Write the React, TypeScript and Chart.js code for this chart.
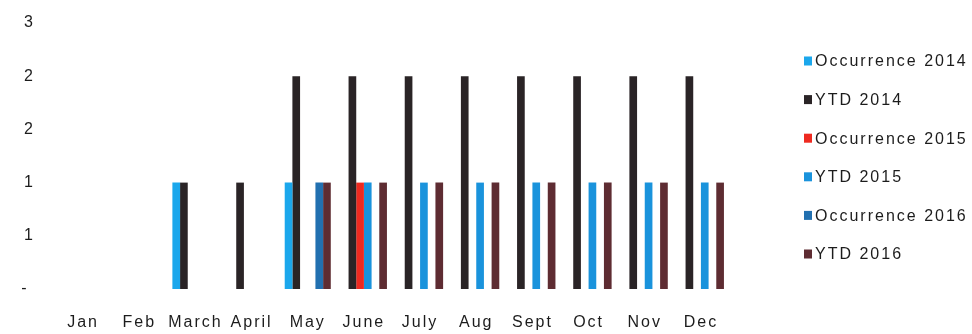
import { useEffect, useRef } from "react";
import { Chart, registerables } from "chart.js";

Chart.register(...registerables);

const months = ["Jan", "Feb", "March", "April", "May", "June", "July", "Aug", "Sept", "Oct", "Nov", "Dec"];

const occurrence2014 = [0, 0, 1, 0, 1, 0, 0, 0, 0, 0, 0, 0];
const ytd2014 = [0, 0, 1, 1, 2, 2, 2, 2, 2, 2, 2, 2];
const occurrence2015 = [0, 0, 0, 0, 0, 1, 0, 0, 0, 0, 0, 0];
const ytd2015 = [0, 0, 0, 0, 0, 1, 1, 1, 1, 1, 1, 1];
const occurrence2016 = [0, 0, 0, 0, 1, 0, 0, 0, 0, 0, 0, 0];
const ytd2016 = [0, 0, 0, 0, 1, 1, 1, 1, 1, 1, 1, 1];

const seriesNames = ["Occurrence 2014", "YTD 2014", "Occurrence 2015", "YTD 2015", "Occurrence 2016", "YTD 2016"];
const seriesColors = ["#1ba7ec", "#2a2426", "#ee2a20", "#1a93dc", "#2270b0", "#5e2c32"];
const seriesValues = [occurrence2014, ytd2014, occurrence2015, ytd2015, occurrence2016, ytd2016];

const FONT_FAMILY = '"Liberation Sans", Arial, sans-serif';
const TEXT_COLOR = "#1c1c1c";
const SPACING = "2px";

// Wide letter spacing for every text drawn on the canvas
const spacingPlugin = {
  id: "wideText",
  beforeLayout(chart: any) {
    chart.ctx.letterSpacing = SPACING;
  },
  beforeDraw(chart: any) {
    chart.ctx.letterSpacing = SPACING;
  },
};

// Legend column on the right with small square swatches
const sideLegend = {
  id: "sideLegend",
  afterDraw(chart: any) {
    const ctx = chart.ctx;
    const x = chart.chartArea.right + 75;
    ctx.save();
    ctx.letterSpacing = SPACING;
    ctx.font = `16px ${FONT_FAMILY}`;
    ctx.textBaseline = "middle";
    ctx.textAlign = "left";
    chart.data.datasets.forEach((ds: any, i: number) => {
      const cy = 61 + i * 38.6;
      ctx.fillStyle = ds.backgroundColor;
      ctx.fillRect(x, cy - 4.5, 8, 9);
      ctx.fillStyle = TEXT_COLOR;
      ctx.fillText(ds.label, x + 11, cy + 1);
    });
    ctx.restore();
  },
};

export default function App() {
  const canvasRef = useRef<HTMLCanvasElement | null>(null);

  useEffect(() => {
    const canvas = canvasRef.current;
    if (!canvas) return;
    const chart = new Chart(canvas, {
      type: "bar",
      data: {
        labels: months,
        datasets: seriesNames.map((name, i) => ({
          label: name,
          data: seriesValues[i],
          backgroundColor: seriesColors[i],
          borderWidth: 0,
          categoryPercentage: 0.82,
          barPercentage: 1.0,
        })),
      },
      options: {
        animation: false,
        responsive: true,
        maintainAspectRatio: false,
        layout: { padding: { left: 21, right: 243, top: 23, bottom: 2 } },
        plugins: {
          legend: { display: false },
          tooltip: { enabled: false },
        },
        scales: {
          x: {
            grid: { display: false, drawTicks: false },
            border: { display: false },
            ticks: {
              color: TEXT_COLOR,
              font: { family: FONT_FAMILY, size: 16, lineHeight: 1.2 },
              padding: 24,
              maxRotation: 0,
              autoSkip: false,
            },
            afterFit: (scale: any) => {
              scale.height = 43;
            },
          },
          y: {
            min: 0,
            max: 2.5,
            grid: { display: false, drawTicks: false },
            border: { display: false },
            ticks: {
              stepSize: 0.5,
              color: TEXT_COLOR,
              font: { family: FONT_FAMILY, size: 16, lineHeight: 1.2 },
              padding: 20,
              callback: (v: any) => (Number(v) === 0 ? "- " : String(Math.round(Number(v)))),
            },
            afterFit: (scale: any) => {
              scale.width = 34;
              scale.paddingTop = 0;
              scale.paddingBottom = 0;
            },
          },
        },
      },
      plugins: [spacingPlugin, sideLegend],
    });
    return () => chart.destroy();
  }, []);

  return (
    <div style={{ position: "absolute", left: 0, top: 0, width: 972, height: 334, overflow: "hidden", background: "#fff" }}>
      <canvas ref={canvasRef} />
    </div>
  );
}
